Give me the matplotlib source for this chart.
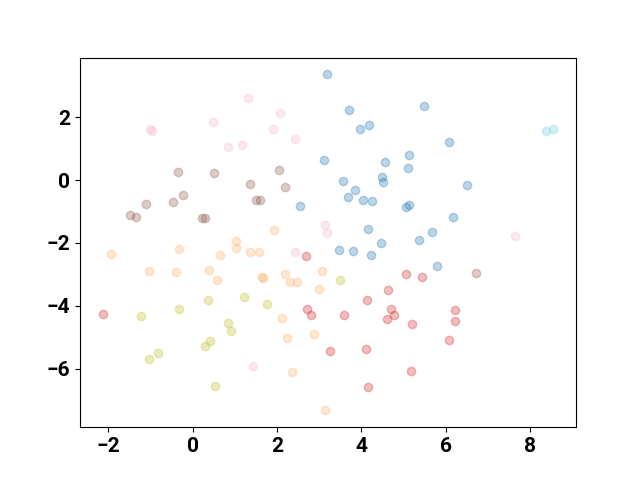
import matplotlib
matplotlib.use("Agg")
import matplotlib.pyplot as plt
import numpy as np

# points, grouped by cluster colour
blue_x = [3.18, 3.11, 2.54, 3.70, 5.48, 3.98, 4.18, 6.08, 5.13, 4.56, 5.11, 4.48, 4.52,
          3.57, 6.52, 3.85, 3.69, 4.05, 4.26, 5.05, 5.13, 6.17, 4.17, 5.68, 5.38, 4.46,
          3.47, 3.80, 4.23, 5.80]
blue_y = [3.36, 0.64, -0.82, 2.24, 2.37, 1.61, 1.76, 1.21, 0.79, 0.58, 0.39, 0.11, -0.05,
          -0.04, -0.16, -0.33, -0.55, -0.64, -0.66, -0.86, -0.79, -1.17, -1.57, -1.66, -1.90, -2.01,
          -2.23, -2.25, -2.40, -2.72]

red_x = [2.68, 5.05, 5.43, 4.63, 4.13, 2.71, 2.80, 3.60, 4.70, 4.60, 4.77, 6.22, 6.23,
         5.21, 6.07, 3.25, 4.12, 5.18, 4.15, -2.14]
red_y = [-2.41, -2.99, -3.10, -3.51, -3.82, -4.11, -4.30, -4.28, -4.10, -4.41, -4.31, -4.12, -4.49,
         -4.59, -5.10, -5.44, -5.39, -6.09, -6.58, -4.27]

brown_x = [-0.36, 0.51, 2.04, 1.37, 2.19, -0.22, -1.10, -0.47, 1.51, 1.60, -1.48, -1.35,
           0.23, 0.28, 6.72]
brown_y = [0.24, 0.22, 0.31, -0.12, -0.21, -0.48, -0.75, -0.71, -0.65, -0.64, -1.12, -1.19,
           -1.20, -1.21, -2.95]

pink_x = [1.32, 2.08, 0.475, -1.02, -0.96, 1.90, 2.43, 0.83, 1.16, 3.13, 3.18, 7.65, 2.42, 1.42]
pink_y = [2.60, 2.14, 1.83, 1.63, 1.57, 1.61, 1.31, 1.05, 1.10, -1.42, -1.69, -1.77, -2.28, -5.93]

orange_x = [1.93, 1.02, 1.02, -1.94, -0.32, 0.64, 1.35, 1.58, -1.03, -0.40, 0.39, 0.58,
            1.64, 1.66, 2.18, 2.30, 2.48, 3.07, 2.99, 2.11, 2.23, 2.88, 2.35, 3.14]
orange_y = [-1.59, -1.94, -2.17, -2.34, -2.21, -2.40, -2.29, -2.29, -2.88, -2.94, -2.87, -3.19,
            -3.10, -3.13, -3.00, -3.25, -3.25, -2.88, -3.47, -4.40, -5.03, -4.90, -6.11, -7.33]

olive_x = [-1.23, -0.32, 0.37, 1.22, 1.77, 0.83, 0.90, 0.29, 0.41, -0.83, -1.04, 0.52, 3.49]
olive_y = [-4.32, -4.11, -3.83, -3.73, -3.93, -4.54, -4.79, -5.28, -5.13, -5.51, -5.70, -6.55, -3.18]

cyan_x = [8.39, 8.56]
cyan_y = [1.57, 1.62]

groups = [
    (blue_x, blue_y, "tab:blue"),
    (orange_x, orange_y, "#ffb06a"),
    (red_x, red_y, "tab:red"),
    (brown_x, brown_y, "tab:brown"),
    (pink_x, pink_y, "#f7b6d2"),
    (olive_x, olive_y, "tab:olive"),
    (cyan_x, cyan_y, "#6fd0dc"),
]

plt.rcParams['font.family'] = ['Roboto', 'DejaVu Sans']
plt.rcParams['font.weight'] = 'bold'
plt.rcParams['font.size'] = 15

fig, ax = plt.subplots(figsize=(6.4, 4.8), dpi=100)
for xs, ys, c in groups:
    ax.scatter(xs, ys, color=c, alpha=0.3)

ax.set_xticks([-2, 0, 2, 4, 6, 8])
ax.set_yticks([-6, -4, -2, 0, 2])

fig.savefig("out.png")
